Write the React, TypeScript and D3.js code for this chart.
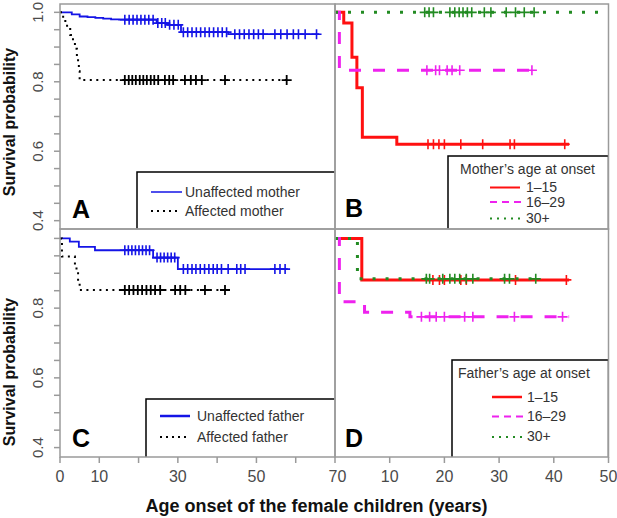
import React from 'react';
import * as d3 from 'd3';

// ---------- DATA ----------
// Panel A (mother affection status)
const aUnaffEventAge = [3, 5, 7, 9, 11, 13, 15, 24.6, 27.5, 30.8, 42.8];
const aUnaffSurv = [0.994, 0.988, 0.986, 0.984, 0.982, 0.98, 0.979, 0.969, 0.964, 0.943, 0.937];
const aUnaffCensor = [16.5, 17.6, 18.6, 19.6, 20.6, 21.6, 22.6, 23.7, 24.9, 25.9, 26.8, 27.9, 29.0, 30.1, 31.4, 32.5, 33.6, 34.7, 35.8, 36.9, 38.0, 39.1, 40.2, 41.3, 42.4, 44.5, 45.7, 46.9, 48.1, 49.3, 50.5, 51.7, 54.7, 56.2, 57.8, 59.4, 60.7, 62.4, 65.3];
const aUnaffEnd = 66;
const aAffEventAge = [0.8, 1.8, 2.6, 3.3, 3.8, 4.3, 4.6, 4.8, 5.0];
const aAffSurv = [0.975, 0.955, 0.935, 0.915, 0.895, 0.87, 0.85, 0.83, 0.805];
const aAffCensor = [16.5, 17.5, 18.4, 19.3, 20.3, 21.2, 22.1, 23.1, 24.0, 25.0, 26.7, 27.8, 28.8, 31.8, 33.3, 34.6, 36.1, 42.0, 57.7];
const aAffEnd = 58.2;

// Panel B (mother's age at onset)
const bLowEventAge = [1.6, 3.1, 4.0, 5.0, 11.3];
const bLowSurv = [0.969, 0.871, 0.783, 0.64, 0.62];
const bLowCensor = [17, 18, 19, 20, 23, 27, 32, 32.8, 42];
const bLowEnd = 42.8;
const bMidEventAge = [0.8];
const bMidSurv = [0.833];
const bMidCensor = [16.8, 18.4, 19.1, 20.5, 21.4, 22.8, 36];
const bMidEnd = 37;
const bHighEventAge: number[] = [];
const bHighSurv: number[] = [];
const bHighCensor = [16.4, 17.2, 18.0, 21.0, 21.9, 22.7, 23.4, 24.2, 25.0, 27.3, 28.5, 31.3, 33.0, 34.6, 36.4];
const bHighEnd = 48.6;

// Panel C (father affection status)
const cUnaffEventAge = [2.5, 4.8, 8.9, 23.7, 30.0];
const cUnaffSurv = [0.991, 0.976, 0.966, 0.945, 0.912];
const cUnaffCensor = [16.5, 17.4, 18.3, 19.2, 20.1, 21.0, 21.9, 22.8, 24.7, 25.6, 26.5, 27.4, 28.3, 29.2, 31.4, 32.5, 33.6, 34.6, 35.7, 36.8, 37.9, 39.0, 40.0, 41.1, 42.8, 45.0, 46.0, 47.1, 54.7, 56.0, 57.3];
const cUnaffEnd = 58;
const cAffEventAge = [0.5, 3.8, 4.2, 4.6, 5.0];
const cAffSurv = [0.948, 0.925, 0.9, 0.875, 0.852];
const cAffCensor = [16.5, 17.6, 18.7, 19.8, 20.9, 22.0, 23.1, 24.2, 25.5, 29.3, 30.6, 31.9, 36.9, 42.0];
const cAffEnd = 42.7;

// Panel D (father's age at onset)
const dLowEventAge = [4.9];
const dLowSurv = [0.881];
const dLowCensor = [17.9, 19.1, 20, 23, 24, 33, 42.3];
const dLowEnd = 42.8;
const dMidEventAge = [0.8, 5.4, 13.7];
const dMidSurv = [0.818, 0.788, 0.775];
const dMidCensor = [15.8, 17.3, 18.5, 20, 23.7, 25.2, 32.8, 41.6];
const dMidEnd = 42.8;
const dHighEventAge = [4.1];
const dHighSurv = [0.884];
const dHighCensor = [16.7, 17.3, 19.7, 21, 21.9, 22.8, 24, 25.2, 31, 31.9, 36.7];
const dHighEnd = 37.4;

const yTicks = [0.4, 0.45, 0.5, 0.55, 0.6, 0.65, 0.7, 0.75, 0.8, 0.85, 0.9, 0.95, 1.0];
const yLabelsTop = [0.4, 0.6, 0.8, 1.0];
const yLabelsBottom = [0.4, 0.6, 0.8];
const xTicksLeft = [0, 10, 20, 30, 40, 50, 60, 70];
const xLabelsLeft = [0, 10, 30, 50, 70];
const xTicksRight = [10, 20, 30, 40, 50];

// ---------- LAYOUT ----------
const W = 617, H = 518;
const L = 60, M = 335, R = 608.5, T = 4, MID = 229, B = 457;
const FONT = 'Liberation Sans, Arial, Helvetica, sans-serif';
const BLUE = '#1414e6', RED = '#ff1010', MAG = '#ee22ee', GREEN = '#228b22', GRAY = '#9a9a9a', TXT = '#4a4a4a';

const xA = d3.scaleLinear().domain([0, 70]).range([L, M]);
const xB = d3.scaleLinear().domain([0, 50]).range([M, R]);
const yTop = d3.scaleLinear().domain([0.376, 1.024]).range([MID, T]);
const yBot = d3.scaleLinear().domain([0.373, 1.027]).range([B, MID]);

function survAt(times: number[], surv: number[], t: number) {
  let s = 1;
  times.forEach((tt, i) => { if (tt <= t) s = surv[i]; });
  return s;
}

type Curve = {
  times: number[]; surv: number[]; censor: number[]; end: number;
  color: string; width: number; dash?: string; markWidth: number;
};

function KM({ c, x, y }: { c: Curve; x: d3.ScaleLinear<number, number>; y: d3.ScaleLinear<number, number> }) {
  const pts: [number, number][] = [[0, 1], ...c.times.map((t, i) => [t, c.surv[i]] as [number, number])];
  pts.push([c.end, c.surv.length ? c.surv[c.surv.length - 1] : 1]);
  const line = d3.line<[number, number]>().x(d => x(d[0])).y(d => y(d[1])).curve(d3.curveStepAfter);
  const h = 5;
  return (
    <g>
      <path d={line(pts) || ''} fill="none" stroke={c.color} strokeWidth={c.width} strokeDasharray={c.dash} strokeLinejoin="miter" />
      {c.censor.map((t, i) => {
        const cx = x(t), cy = y(survAt(c.times, c.surv, t));
        return (
          <path key={i} d={`M${cx - h},${cy}H${cx + h}M${cx},${cy - h}V${cy + h}`} stroke={c.color} strokeWidth={c.markWidth} fill="none" />
        );
      })}
    </g>
  );
}

function YAxis({ y, labels }: { y: d3.ScaleLinear<number, number>; labels: number[] }) {
  return (
    <g>
      {yTicks.map(v => (
        <line key={v} x1={L - 6} x2={L} y1={y(v)} y2={y(v)} stroke={GRAY} strokeWidth={1.5} />
      ))}
      {labels.map(v => (
        <text key={v} transform={`translate(${L - 17},${y(v)}) rotate(-90)`} textAnchor="middle" fontSize={15} fill={TXT} fontFamily={FONT}>
          {v.toFixed(1)}
        </text>
      ))}
    </g>
  );
}

export default function App() {
  const curvesA: Curve[] = [
    { times: aUnaffEventAge, surv: aUnaffSurv, censor: aUnaffCensor, end: aUnaffEnd, color: BLUE, width: 1.8, markWidth: 1.6 },
    { times: aAffEventAge, surv: aAffSurv, censor: aAffCensor, end: aAffEnd, color: '#000', width: 2, dash: '2 4.5', markWidth: 1.8 },
  ];
  const curvesB: Curve[] = [
    { times: bLowEventAge, surv: bLowSurv, censor: bLowCensor, end: bLowEnd, color: RED, width: 3, markWidth: 1.6 },
    { times: bMidEventAge, surv: bMidSurv, censor: bMidCensor, end: bMidEnd, color: MAG, width: 3, dash: '12 12', markWidth: 1.6 },
    { times: bHighEventAge, surv: bHighSurv, censor: bHighCensor, end: bHighEnd, color: GREEN, width: 3, dash: '3 10', markWidth: 1.6 },
  ];
  const curvesC: Curve[] = [
    { times: cUnaffEventAge, surv: cUnaffSurv, censor: cUnaffCensor, end: cUnaffEnd, color: BLUE, width: 1.8, markWidth: 1.6 },
    { times: cAffEventAge, surv: cAffSurv, censor: cAffCensor, end: cAffEnd, color: '#000', width: 2, dash: '2 4.5', markWidth: 1.8 },
  ];
  const curvesD: Curve[] = [
    { times: dLowEventAge, surv: dLowSurv, censor: dLowCensor, end: dLowEnd, color: RED, width: 3, markWidth: 1.6 },
    { times: dMidEventAge, surv: dMidSurv, censor: dMidCensor, end: dMidEnd, color: MAG, width: 3, dash: '12 12', markWidth: 1.6 },
    { times: dHighEventAge, surv: dHighSurv, censor: dHighCensor, end: dHighEnd, color: GREEN, width: 3, dash: '3 10', markWidth: 1.6 },
  ];

  const legText = { fontSize: 14, fill: '#333', fontFamily: FONT } as const;

  return (
    <svg width={W} height={H} viewBox={`0 0 ${W} ${H}`} style={{ position: 'absolute', left: 0, top: 0, background: '#fff' }}>
      <defs>
        <clipPath id="cA"><rect x={L} y={T} width={M - L} height={MID - T} /></clipPath>
        <clipPath id="cB"><rect x={M} y={T} width={R - M} height={MID - T} /></clipPath>
        <clipPath id="cC"><rect x={L} y={MID} width={M - L} height={B - MID} /></clipPath>
        <clipPath id="cD"><rect x={M} y={MID} width={R - M} height={B - MID} /></clipPath>
      </defs>
      <rect x={0} y={0} width={W} height={H} fill="#fff" />

      {/* Panel A */}
      <g clipPath="url(#cA)">
        {curvesA.map((c, i) => <KM key={i} c={c} x={xA} y={yTop} />)}
        <rect x={137} y={172} width={M - 137 + 5} height={MID - 172 + 5} fill="#fff" stroke="#000" strokeWidth={1.5} />
        <line x1={151} x2={182} y1={192} y2={192} stroke={BLUE} strokeWidth={1.5} />
        <text x={185} y={197} {...legText}>Unaffected mother</text>
        <line x1={151} x2={180} y1={211} y2={211} stroke="#000" strokeWidth={2} strokeDasharray="2 4" />
        <text x={185} y={216} {...legText}>Affected mother</text>
        <text x={72} y={218} fontSize={25} fontWeight="bold" fontFamily={FONT}>A</text>
      </g>

      {/* Panel B */}
      <g clipPath="url(#cB)">
        {curvesB.map((c, i) => <KM key={i} c={c} x={xB} y={yTop} />)}
        <rect x={448} y={156} width={R - 448} height={MID - 156 + 5} fill="#fff" stroke="#000" strokeWidth={1.5} />
        <text x={460} y={174} {...legText}>Mother’s age at onset</text>
        <line x1={490} x2={520} y1={187.5} y2={187.5} stroke={RED} strokeWidth={2} />
        <text x={526} y={192} {...legText}>1–15</text>
        <line x1={490} x2={521} y1={202} y2={202} stroke={MAG} strokeWidth={2} strokeDasharray="7 5" />
        <text x={526} y={207} {...legText}>16–29</text>
        <line x1={490} x2={521} y1={218.5} y2={218.5} stroke={GREEN} strokeWidth={2} strokeDasharray="2 5" />
        <text x={526} y={223} {...legText}>30+</text>
        <text x={345} y={217} fontSize={25} fontWeight="bold" fontFamily={FONT}>B</text>
      </g>

      {/* Panel C */}
      <g clipPath="url(#cC)">
        {curvesC.map((c, i) => <KM key={i} c={c} x={xA} y={yBot} />)}
        <rect x={146} y={399} width={M - 146 + 5} height={B - 399 + 5} fill="#fff" stroke="#000" strokeWidth={1.5} />
        <line x1={160} x2={190} y1={416} y2={416} stroke={BLUE} strokeWidth={2.5} />
        <text x={197} y={421} {...legText}>Unaffected father</text>
        <line x1={160} x2={189} y1={437} y2={437} stroke="#000" strokeWidth={2} strokeDasharray="2 4" />
        <text x={197} y={442} {...legText}>Affected father</text>
        <text x={72} y={447} fontSize={25} fontWeight="bold" fontFamily={FONT}>C</text>
      </g>

      {/* Panel D */}
      <g clipPath="url(#cD)">
        {curvesD.map((c, i) => <KM key={i} c={c} x={xB} y={yBot} />)}
        <rect x={452} y={360} width={R - 452} height={B - 360 + 5} fill="#fff" stroke="#000" strokeWidth={1.5} />
        <text x={458} y={378} {...legText}>Father’s age at onset</text>
        <line x1={492} x2={522} y1={397} y2={397} stroke={RED} strokeWidth={2.5} />
        <text x={527} y={402} {...legText}>1–15</text>
        <line x1={492} x2={523} y1={416.5} y2={416.5} stroke={MAG} strokeWidth={2} strokeDasharray="7 5" />
        <text x={527} y={421} {...legText}>16–29</text>
        <line x1={492} x2={523} y1={437} y2={437} stroke={GREEN} strokeWidth={2} strokeDasharray="2 5" />
        <text x={527} y={441} {...legText}>30+</text>
        <text x={345} y={447} fontSize={25} fontWeight="bold" fontFamily={FONT}>D</text>
      </g>

      {/* Frames */}
      <rect x={L} y={T} width={M - L} height={MID - T} fill="none" stroke={GRAY} strokeWidth={1.5} />
      <rect x={M} y={T} width={R - M} height={MID - T} fill="none" stroke={GRAY} strokeWidth={1.5} />
      <rect x={L} y={MID} width={M - L} height={B - MID} fill="none" stroke={GRAY} strokeWidth={1.5} />
      <rect x={M} y={MID} width={R - M} height={B - MID} fill="none" stroke={GRAY} strokeWidth={1.5} />

      {/* Y axes */}
      <YAxis y={yTop} labels={yLabelsTop} />
      <YAxis y={yBot} labels={yLabelsBottom} />

      {/* X axes */}
      {xTicksLeft.map(v => (
        <line key={'tl' + v} x1={xA(v)} x2={xA(v)} y1={B} y2={B + 6} stroke={GRAY} strokeWidth={1.5} />
      ))}
      {xLabelsLeft.map(v => (
        <text key={'ll' + v} x={xA(v) + (v === 70 ? 2.5 : 0)} y={482} textAnchor="middle" fontSize={16} fill={TXT} fontFamily={FONT}>{v}</text>
      ))}
      {xTicksRight.map(v => (
        <line key={'tr' + v} x1={xB(v)} x2={xB(v)} y1={B} y2={B + 6} stroke={GRAY} strokeWidth={1.5} />
      ))}
      {xTicksRight.map(v => (
        <text key={'lr' + v} x={xB(v)} y={482} textAnchor="middle" fontSize={16} fill={TXT} fontFamily={FONT}>{v}</text>
      ))}

      {/* Axis titles */}
      <text transform="translate(15,122) rotate(-90)" textAnchor="middle" fontSize={16} fontWeight="bold" fontFamily={FONT} fill="#111">Survival probability</text>
      <text transform="translate(15,372) rotate(-90)" textAnchor="middle" fontSize={16} fontWeight="bold" fontFamily={FONT} fill="#111">Survival probability</text>
      <text x={316.5} y={512} textAnchor="middle" fontSize={18} fontWeight="bold" fontFamily={FONT} fill="#111">Age onset of the female children (years)</text>
    </svg>
  );
}
